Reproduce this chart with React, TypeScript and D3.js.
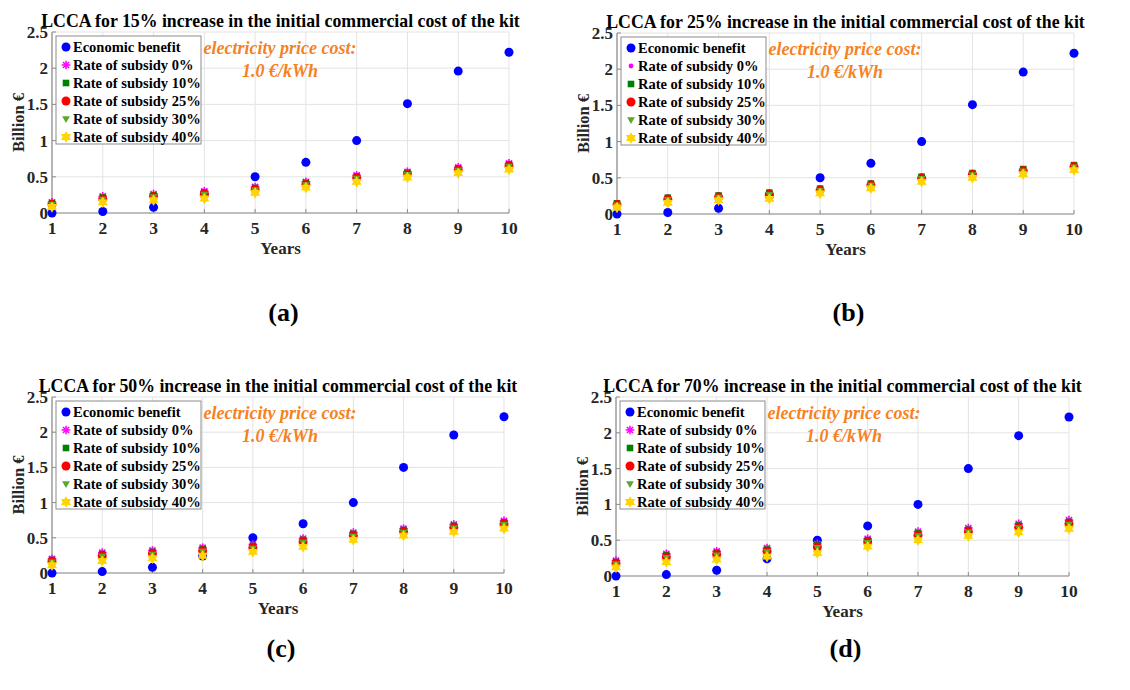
import React from "react";
import * as d3 from "d3";

const years = [1, 2, 3, 4, 5, 6, 7, 8, 9, 10];
const yTicks = [0, 0.5, 1, 1.5, 2, 2.5];
const seriesNames = [
  "Economic benefit",
  "Rate of subsidy 0%",
  "Rate of subsidy 10%",
  "Rate of subsidy 25%",
  "Rate of subsidy 30%",
  "Rate of subsidy 40%",
];
const titles = [
  "LCCA for 15% increase in the initial commercial cost of the kit",
  "LCCA for 25% increase in the initial commercial cost of the kit",
  "LCCA for 50% increase in the initial commercial cost of the kit",
  "LCCA for 70% increase in the initial commercial cost of the kit",
];
const panelLabels = ["(a)", "(b)", "(c)", "(d)"];

// Panel (a) 15%
const ebA = [0.0, 0.02, 0.08, 0.25, 0.5, 0.7, 1.0, 1.51, 1.96, 2.22];
const s0A = [0.148, 0.23, 0.262, 0.3, 0.36, 0.43, 0.52, 0.57, 0.63, 0.685];
const s10A = [0.135, 0.215, 0.245, 0.285, 0.345, 0.415, 0.505, 0.555, 0.615, 0.67];
const s25A = [0.12, 0.195, 0.228, 0.265, 0.325, 0.395, 0.485, 0.535, 0.595, 0.65];
const s30A = [0.113, 0.188, 0.22, 0.257, 0.318, 0.388, 0.477, 0.528, 0.587, 0.643];
const s40A = [0.083, 0.148, 0.176, 0.2, 0.28, 0.35, 0.43, 0.49, 0.55, 0.6];

// Panel (b) 25%
const ebB = [0.0, 0.02, 0.08, 0.25, 0.5, 0.7, 1.0, 1.51, 1.96, 2.22];
const s0B = [0.16, 0.24, 0.27, 0.31, 0.365, 0.435, 0.53, 0.58, 0.635, 0.69];
const s10B = [0.148, 0.225, 0.255, 0.295, 0.35, 0.42, 0.515, 0.565, 0.62, 0.675];
const s25B = [0.13, 0.205, 0.235, 0.275, 0.33, 0.4, 0.495, 0.545, 0.6, 0.655];
const s30B = [0.123, 0.198, 0.228, 0.268, 0.322, 0.393, 0.487, 0.538, 0.592, 0.648];
const s40B = [0.09, 0.155, 0.19, 0.21, 0.285, 0.355, 0.445, 0.5, 0.55, 0.605];

// Panel (c) 50%
const ebC = [0.0, 0.02, 0.08, 0.24, 0.5, 0.7, 1.0, 1.5, 1.96, 2.22];
const s0C = [0.2, 0.29, 0.32, 0.36, 0.405, 0.49, 0.575, 0.63, 0.69, 0.74];
const s10C = [0.185, 0.27, 0.3, 0.34, 0.385, 0.47, 0.555, 0.61, 0.67, 0.72];
const s25C = [0.165, 0.245, 0.275, 0.315, 0.36, 0.445, 0.53, 0.585, 0.645, 0.695];
const s30C = [0.155, 0.235, 0.265, 0.305, 0.35, 0.435, 0.52, 0.575, 0.635, 0.685];
const s40C = [0.11, 0.17, 0.21, 0.245, 0.3, 0.37, 0.47, 0.53, 0.585, 0.63];

// Panel (d) 70%
const ebD = [0.0, 0.02, 0.08, 0.24, 0.5, 0.7, 1.0, 1.5, 1.96, 2.22];
const s0D = [0.215, 0.31, 0.345, 0.39, 0.45, 0.52, 0.62, 0.67, 0.73, 0.78];
const s10D = [0.195, 0.29, 0.325, 0.37, 0.43, 0.5, 0.595, 0.645, 0.705, 0.755];
const s25D = [0.175, 0.265, 0.3, 0.345, 0.405, 0.475, 0.57, 0.62, 0.68, 0.73];
const s30D = [0.165, 0.255, 0.29, 0.335, 0.395, 0.465, 0.56, 0.61, 0.67, 0.72];
const s40D = [0.12, 0.195, 0.23, 0.27, 0.32, 0.41, 0.5, 0.56, 0.61, 0.66];

const COLORS = ["#0000FF", "#FF00FF", "#008000", "#FF0000", "#5BA829", "#FFD400"];
const FONT = "'Liberation Serif', 'Times New Roman', serif";
const ORANGE = "#F5821F";

type MarkerKind = "circle" | "asterisk" | "dot" | "square" | "tri" | "hex";

function hexPath(r: number) {
  const pts: string[] = [];
  const ri = r * 0.58;
  for (let i = 0; i < 12; i++) {
    const a = (Math.PI / 6) * i - Math.PI / 2;
    const rr = i % 2 === 0 ? r : ri;
    pts.push(`${(rr * Math.cos(a)).toFixed(2)},${(rr * Math.sin(a)).toFixed(2)}`);
  }
  return "M" + pts.join("L") + "Z";
}

function Marker({ kind, x, y, color }: { kind: MarkerKind; x: number; y: number; color: string }) {
  const t = `translate(${x},${y})`;
  switch (kind) {
    case "circle":
      return <circle cx={x} cy={y} r={4.5} fill={color} />;
    case "dot":
      return <circle cx={x} cy={y} r={2.4} fill={color} />;
    case "asterisk": {
      const r = 4.3;
      const d = r * 0.7071;
      return (
        <g transform={t} stroke={color} strokeWidth={1.6}>
          <line x1={-r} y1={0} x2={r} y2={0} />
          <line x1={0} y1={-r} x2={0} y2={r} />
          <line x1={-d} y1={-d} x2={d} y2={d} />
          <line x1={-d} y1={d} x2={d} y2={-d} />
        </g>
      );
    }
    case "square":
      return <rect x={x - 3.3} y={y - 3.3} width={6.6} height={6.6} fill={color} />;
    case "tri":
      return <path transform={t} d="M-3.9,-2.7L3.9,-2.7L0,3.9Z" fill={color} />;
    case "hex":
      return <path transform={t} d={hexPath(5.8)} fill={color} />;
  }
  return null;
}

type PanelProps = {
  x1: number;
  x10: number;
  y0: number;
  yTop: number;
  title: string;
  label: string;
  labelY: number;
  yLabelX: number;
  s0Kind: MarkerKind;
  data: number[][];
};

function Panel({ x1, x10, y0, yTop, title, label, labelY, yLabelX, s0Kind, data }: PanelProps) {
  const x = d3.scaleLinear().domain([1, 10]).range([x1, x10]);
  const y = d3.scaleLinear().domain([0, 2.5]).range([y0, yTop]);
  const kinds: MarkerKind[] = ["circle", s0Kind, "square", "circle", "tri", "hex"];
  const cx = (x1 + x10) / 2;
  const lx = x1 + 4;
  const ly = yTop + 4;
  return (
    <g>
      {/* grid */}
      {years.map((v) => (
        <line key={"gx" + v} x1={x(v)} x2={x(v)} y1={y(0)} y2={y(2.5)} stroke="#E3E3E3" strokeWidth={1} />
      ))}
      {yTicks.map((v) => (
        <line key={"gy" + v} x1={x(1)} x2={x(10)} y1={y(v)} y2={y(v)} stroke="#E3E3E3" strokeWidth={1} />
      ))}
      {/* axes */}
      <line x1={x(1)} x2={x(10)} y1={y(0)} y2={y(0)} stroke="#8C8C8C" strokeWidth={1.2} />
      <line x1={x(1)} x2={x(1)} y1={y(0)} y2={y(2.5)} stroke="#8C8C8C" strokeWidth={1.2} />
      {years.map((v) => (
        <line key={"tx" + v} x1={x(v)} x2={x(v)} y1={y(0)} y2={y(0) - 4} stroke="#8C8C8C" strokeWidth={1} />
      ))}
      {yTicks.map((v) => (
        <line key={"ty" + v} x1={x(1)} x2={x(1) + 4} y1={y(v)} y2={y(v)} stroke="#8C8C8C" strokeWidth={1} />
      ))}
      {/* tick labels */}
      {years.map((v) => (
        <text key={"lx" + v} x={x(v)} y={y(0) + 21} textAnchor="middle" fontFamily={FONT} fontWeight="bold" fontSize={17.5} fill="#262626">
          {v}
        </text>
      ))}
      {yTicks.map((v) => (
        <text key={"ly" + v} x={x(1) - 4} y={y(v) + 6} textAnchor="end" fontFamily={FONT} fontWeight="bold" fontSize={17} fill="#262626">
          {String(v)}
        </text>
      ))}
      {/* title */}
      <text x={cx} y={yTop - 5} textAnchor="middle" fontFamily={FONT} fontWeight="bold" fontSize={17.8} fill="#000">
        {title}
      </text>
      {/* axis labels */}
      <text x={cx} y={y0 + 41} textAnchor="middle" fontFamily={FONT} fontWeight="bold" fontSize={17} fill="#262626">
        Years
      </text>
      <text
        transform={`translate(${yLabelX},${(y0 + yTop) / 2}) rotate(-90)`}
        textAnchor="middle"
        dominantBaseline="central"
        fontFamily={FONT}
        fontWeight="bold"
        fontSize={16.5}
        fill="#262626"
      >
        Billion €
      </text>
      {/* data */}
      {data.map((series, si) =>
        series.map((v, i) => (
          <Marker key={`m${si}-${i}`} kind={kinds[si]} x={x(years[i])} y={y(v)} color={COLORS[si]} />
        ))
      )}
      {/* annotation */}
      <text x={x1 + 228} y={yTop + 22} textAnchor="middle" fontFamily={FONT} fontWeight="bold" fontStyle="italic" fontSize={18} fill={ORANGE}>
        electricity price cost:
      </text>
      <text x={x1 + 228} y={yTop + 45} textAnchor="middle" fontFamily={FONT} fontWeight="bold" fontStyle="italic" fontSize={18} fill={ORANGE}>
        1.0 €/kWh
      </text>
      {/* legend */}
      <rect x={lx} y={ly} width={145} height={108} fill="#FFFFFF" stroke="#8C8C8C" strokeWidth={1} />
      {seriesNames.map((n, i) => (
        <g key={"lg" + i}>
          <Marker kind={kinds[i]} x={lx + 10} y={ly + 11 + i * 18} color={COLORS[i]} />
          <text x={lx + 17} y={ly + 16 + i * 18} fontFamily={FONT} fontWeight="bold" fontSize={14.5} fill="#000">
            {n}
          </text>
        </g>
      ))}
      {/* panel label */}
      <text x={cx + 3} y={labelY} textAnchor="middle" fontFamily={FONT} fontWeight="bold" fontSize={26} fill="#000">
        {label}
      </text>
    </g>
  );
}

export default function App() {
  return (
    <div style={{ position: "absolute", left: 0, top: 0, background: "#fff" }}>
      <svg width={1130} height={690} viewBox="0 0 1130 690" style={{ display: "block", background: "#fff" }}>
        <rect width={1130} height={690} fill="#fff" />
        <Panel x1={52} x10={509} y0={213} yTop={32} title={titles[0]} label={panelLabels[0]} labelY={321} yLabelX={18} s0Kind="asterisk" data={[ebA, s0A, s10A, s25A, s30A, s40A]} />
        <Panel x1={617} x10={1074} y0={214} yTop={33} title={titles[1]} label={panelLabels[1]} labelY={321} yLabelX={583} s0Kind="dot" data={[ebB, s0B, s10B, s25B, s30B, s40B]} />
        <Panel x1={52} x10={504} y0={573} yTop={397} title={titles[2]} label={panelLabels[2]} labelY={657} yLabelX={18} s0Kind="asterisk" data={[ebC, s0C, s10C, s25C, s30C, s40C]} />
        <Panel x1={616} x10={1069} y0={576} yTop={397} title={titles[3]} label={panelLabels[3]} labelY={657} yLabelX={582} s0Kind="asterisk" data={[ebD, s0D, s10D, s25D, s30D, s40D]} />
      </svg>
    </div>
  );
}
